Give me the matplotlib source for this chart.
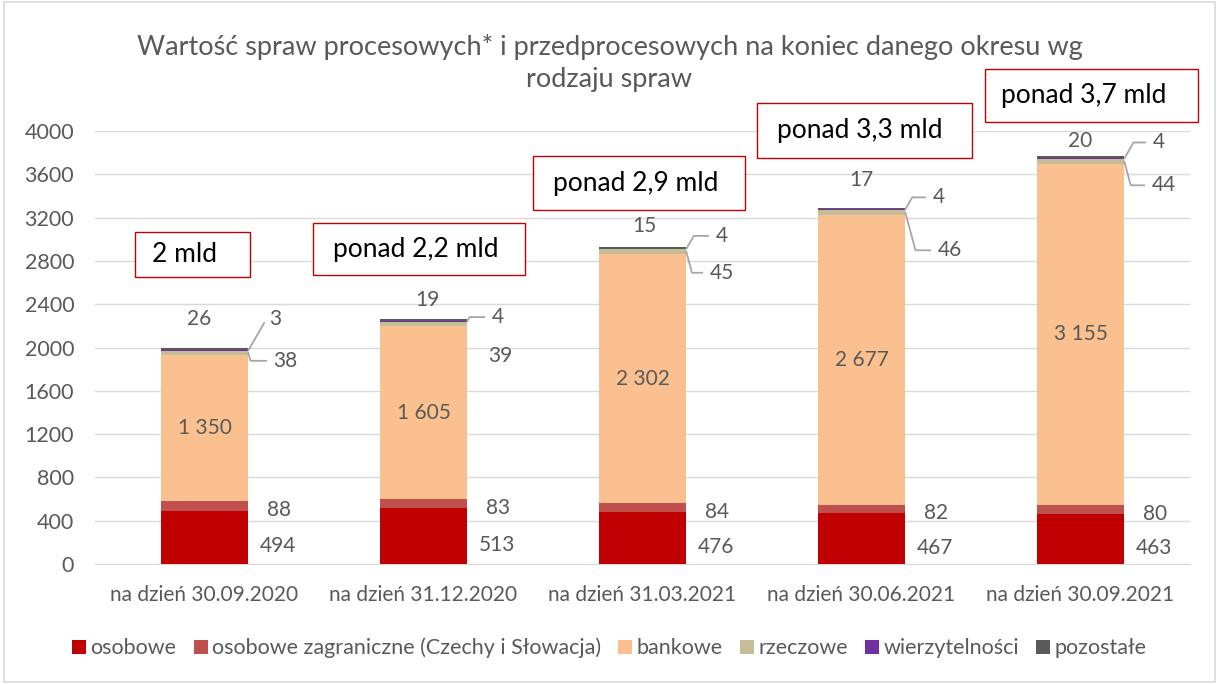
import matplotlib
matplotlib.use("Agg")
import matplotlib.pyplot as plt
from matplotlib.patches import Rectangle
import numpy as np

plt.rcParams['font.family'] = ['Lato', 'DejaVu Sans']

categories = ["na dzień 30.09.2020", "na dzień 31.12.2020", "na dzień 31.03.2021",
              "na dzień 30.06.2021", "na dzień 30.09.2021"]
series_names = ["osobowe", "osobowe zagraniczne (Czechy i Słowacja)", "bankowe",
                "rzeczowe", "wierzytelności", "pozostałe"]
osobowe = [494, 513, 476, 467, 463]
zagraniczne = [88, 83, 84, 82, 80]
bankowe = [1350, 1605, 2302, 2677, 3155]
rzeczowe = [38, 39, 45, 46, 44]
wierzytelnosci = [3, 4, 4, 4, 4]
pozostale = [26, 19, 15, 17, 20]
totals_text = ["2 mld", "ponad 2,2 mld", "ponad 2,9 mld", "ponad 3,3 mld", "ponad 3,7 mld"]

colors = ["#C00000", "#C0504D", "#FAC090", "#C4BD97", "#7030A0", "#595959"]
txt = "#595959"
W, H = 1219, 684
PT = 0.72  # points per pixel at dpi 100


def fmt(v):
    return f"{v:,}".replace(",", " ")


fig = plt.figure(figsize=(W / 100, H / 100), dpi=100)
fig.patches.append(Rectangle((0.003, 0.003), 0.994, 0.994, transform=fig.transFigure,
                             fill=False, edgecolor="#D9D9D9", linewidth=1.2))
ax = fig.add_axes([95 / W, 1 - 564 / H, 1095 / W, 433 / H])

x = np.arange(len(categories))
width = 0.40
series = [osobowe, zagraniczne, bankowe, rzeczowe, wierzytelnosci, pozostale]
bottom = np.zeros(len(categories))
for s, c, n in zip(series, colors, series_names):
    ax.bar(x, s, width, bottom=bottom, color=c, label=n, zorder=3)
    bottom = bottom + np.array(s)

ax.set_xlim(-0.5, len(categories) - 0.5)
ax.set_ylim(0, 4000)
ax.set_yticks(np.arange(0, 4001, 400))
ax.tick_params(axis='y', length=0, labelsize=15.5, labelcolor=txt, pad=15)
ax.tick_params(axis='x', length=0, labelsize=15, labelcolor=txt, pad=15)
ax.set_xticks(x)
ax.set_xticklabels(categories)
ax.grid(axis='y', color="#D9D9D9", linewidth=1, zorder=0)
for sp in ["top", "right", "left"]:
    ax.spines[sp].set_visible(False)
ax.spines["bottom"].set_color("#D9D9D9")

fs = 15
for i in range(len(x)):
    ax.annotate(fmt(osobowe[i]), (x[i] + width / 2, osobowe[i] / 2), xytext=(30 * PT, -9 * PT),
                textcoords="offset points", ha="center", va="center", fontsize=fs, color=txt)
    ax.annotate(fmt(zagraniczne[i]), (x[i] + width / 2, osobowe[i] + zagraniczne[i] / 2),
                xytext=(31 * PT, -4 * PT), textcoords="offset points", ha="center", va="center",
                fontsize=fs, color=txt)
    ax.text(x[i], osobowe[i] + zagraniczne[i] + bankowe[i] / 2, fmt(bankowe[i]),
            ha="center", va="center", fontsize=fs, color=txt, zorder=4)

# small segment labels (pixel offsets from bar top / top-right corner)
top_off = [(-5, 29), (4, 19), (2, 21), (0, 28), (0, 15)]
w_off = [(21, 31), (24, 4), (29, 13), (27, 12), (28, 16)]
r_off = [(25, -8), (21, -32), (23, -21), (32, -38), (27, -24)]
r_leader = [True, False, True, True, True]
for i in range(len(x)):
    tot = bottom[i]
    xr = x[i] + width / 2
    ax.annotate(fmt(pozostale[i]), (x[i], tot), xytext=(top_off[i][0] * PT, top_off[i][1] * PT),
                textcoords="offset points", ha="center", va="center", fontsize=fs, color=txt)
    ax.annotate(fmt(wierzytelnosci[i]), (xr, tot - pozostale[i]),
                xytext=(w_off[i][0] * PT, w_off[i][1] * PT), textcoords="offset points",
                ha="left", va="center", fontsize=fs, color=txt,
                arrowprops=dict(arrowstyle="-", color="#A6A6A6", lw=1.3,
                                connectionstyle="angle,angleA=0,angleB=60,rad=0",
                                shrinkA=3, shrinkB=0))
    yr = tot - pozostale[i] - wierzytelnosci[i] - rzeczowe[i] / 2
    ap = None
    if r_leader[i]:
        ap = dict(arrowstyle="-", color="#A6A6A6", lw=1.3,
                  connectionstyle="angle,angleA=0,angleB=-75,rad=0", shrinkA=3, shrinkB=0)
    ax.annotate(fmt(rzeczowe[i]), (xr, yr), xytext=(r_off[i][0] * PT, r_off[i][1] * PT),
                textcoords="offset points", ha="left", va="center", fontsize=fs, color=txt,
                arrowprops=ap)

# total boxes (pixel layout: left, top, right, bottom; text left edge)
boxes = [(135, 232, 250, 277, 152), (313, 223, 525, 275, 333), (533, 156, 745, 210, 553),
         (757, 103, 972, 158, 777), (985, 69, 1198, 122, 1001)]
for t, (l, tp, r, b, tl) in zip(totals_text, boxes):
    fig.patches.append(Rectangle((l / W, 1 - b / H), (r - l) / W, (b - tp) / H,
                                 transform=fig.transFigure, facecolor="white",
                                 edgecolor="#C00000", linewidth=1, zorder=5))
    fig.text(tl / W, 1 - (tp + b) / 2 / H, t, ha="left", va="center", fontsize=19,
             color="black", zorder=6)

fig.text(0.5, 1 - 47 / H, "Wartość spraw procesowych* i przedprocesowych na koniec danego okresu wg",
         ha="center", va="center", fontsize=19.5, color=txt)
fig.text(0.5, 1 - 80 / H, "rodzaju spraw", ha="center", va="center", fontsize=19.5, color=txt)

leg = fig.legend(loc="center", bbox_to_anchor=(0.5, 1 - 648 / H), ncol=6, frameon=False,
                 fontsize=15.5, handlelength=0.65, handleheight=0.65, handletextpad=0.2,
                 columnspacing=0.8)
for t in leg.get_texts():
    t.set_color(txt)

fig.savefig("out.png", dpi=100)
